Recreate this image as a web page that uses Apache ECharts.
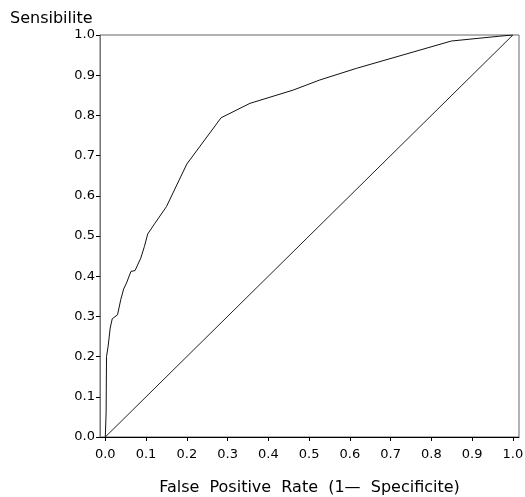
<!DOCTYPE html>
<html>
<head>
<meta charset="utf-8">
<script src="https://cdn.jsdelivr.net/npm/echarts@6/dist/echarts.min.js"></script>
<style>
  html, body { margin: 0; padding: 0; background: #fff; }
  #chart { width: 525px; height: 497px; }
</style>
</head>
<body>
<div id="chart"></div>
<script>
// ROC curve points: false positive rate / sensitivity
var fpr = [0, 0.002, 0.003, 0.007, 0.012, 0.017, 0.030, 0.038, 0.045, 0.052, 0.063, 0.073, 0.087, 0.096, 0.104, 0.122, 0.150, 0.200, 0.284, 0.355, 0.461, 0.526, 0.616, 0.849, 0.967, 1.0]
var sens = [0, 0.06, 0.200, 0.226, 0.271, 0.294, 0.304, 0.342, 0.368, 0.383, 0.412, 0.414, 0.445, 0.474, 0.505, 0.532, 0.573, 0.679, 0.794, 0.830, 0.863, 0.888, 0.917, 0.985, 0.997, 1.0]
var diagX = [0, 1]
var diagY = [0, 1]
var tickValues = [0, 0.1, 0.2, 0.3, 0.4, 0.5, 0.6, 0.7, 0.8, 0.9, 1.0]

var chart = echarts.init(document.getElementById('chart'))

function pairs(xs, ys) {
  var out = []
  for (var i = 0; i < xs.length; i++) out.push([xs[i], ys[i]])
  return out
}

var font = 'DejaVu Sans'

var option = {
  animation: false,
  backgroundColor: '#fff',
  title: {
    text: 'Sensibilite',
    left: 5,
    top: 6,
    textStyle: { fontFamily: font, fontSize: 16, fontWeight: 'normal', color: '#000' }
  },
  grid: {
    left: 100, right: 6, top: 35, bottom: 60,
    outerBoundsMode: 'none',
    containLabel: false,
    show: true,
    borderColor: '#666',
    borderWidth: 1
  },
  xAxis: {
    type: 'value',
    min: -0.013,
    max: 1.015,
    name: 'False  Positive  Rate  (1\u2014  Specificite)',
    nameLocation: 'middle',
    nameGap: 43,
    nameTextStyle: { fontFamily: font, fontSize: 16, color: '#000' },
    axisLine: { show: true, onZero: false, lineStyle: { color: '#000', width: 1 } },
    axisTick: { show: true, length: 4, lineStyle: { color: '#000' }, customValues: tickValues },
    axisLabel: {
      customValues: tickValues,
      margin: 11,
      fontFamily: font, fontSize: 13, color: '#000',
      formatter: function (v) { return v.toFixed(1) }
    },
    splitLine: { show: false }
  },
  yAxis: {
    type: 'value',
    min: 0,
    max: 1,
    interval: 0.1,
    axisLine: { show: true, onZero: false, lineStyle: { color: '#777', width: 1 } },
    axisTick: { show: true, length: 4, lineStyle: { color: '#000' } },
    axisLabel: {
      margin: 5,
      fontFamily: font, fontSize: 13, color: '#000',
      formatter: function (v) { return v.toFixed(1) }
    },
    splitLine: { show: false }
  },
  series: [
    {
      name: 'ROC',
      type: 'line',
      data: pairs(fpr, sens),
      showSymbol: false,
      lineStyle: { color: '#111', width: 1 }
    },
    {
      name: 'Reference',
      type: 'line',
      data: pairs(diagX, diagY),
      showSymbol: false,
      lineStyle: { color: '#222', width: 1 }
    }
  ]
}

chart.setOption(option)
</script>
</body>
</html>
